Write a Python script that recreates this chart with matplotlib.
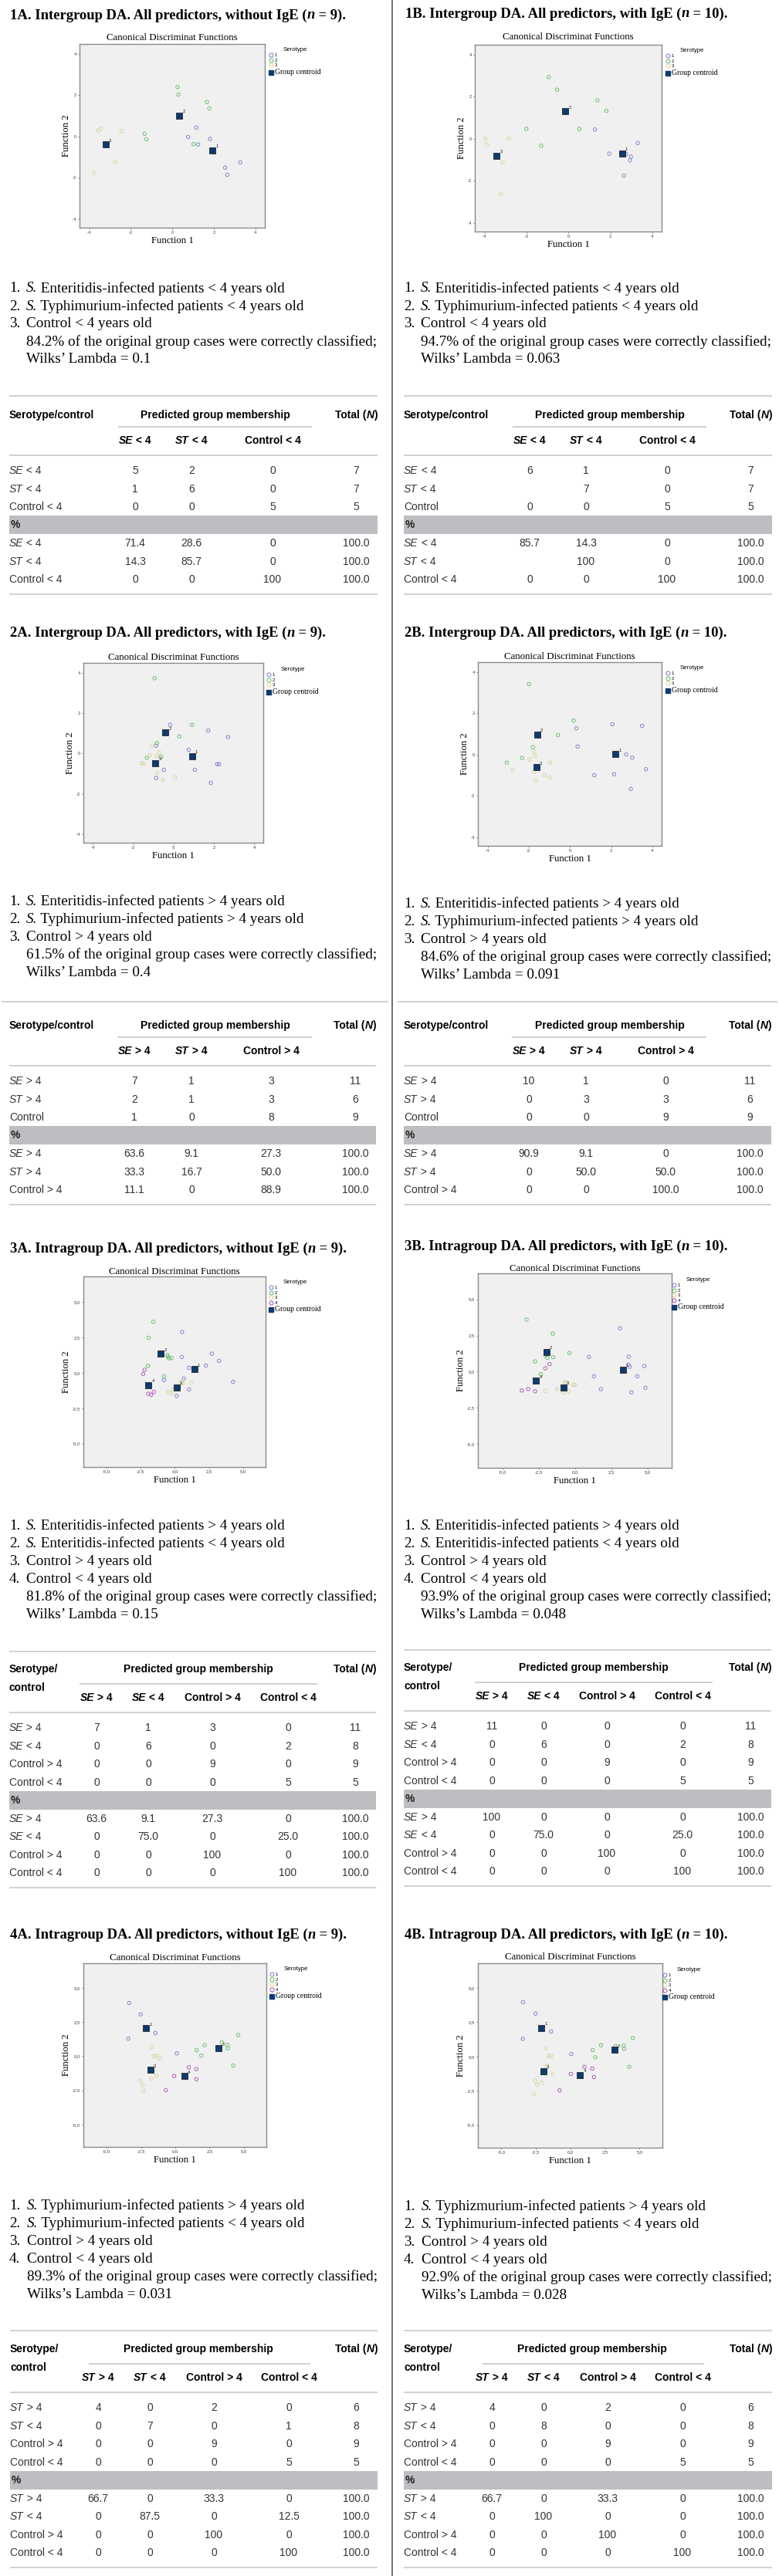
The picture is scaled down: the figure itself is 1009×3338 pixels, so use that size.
import matplotlib
matplotlib.use('Agg')
import matplotlib.pyplot as plt
from matplotlib.lines import Line2D
from matplotlib.patches import Rectangle
from matplotlib.ticker import FuncFormatter

W, H = 1009, 3338
SERIF = 'Liberation Serif'
SANS = 'Liberation Sans'
plt.rcParams['axes.unicode_minus'] = False

# ---------------- headings and captions ----------------
title_1a = "1A. Intergroup DA. All predictors, without IgE (n = 9)."
title_1b = "1B. Intergroup DA. All predictors, with IgE (n = 10)."
title_2a = "2A. Intergroup DA. All predictors, with IgE (n = 9)."
title_2b = "2B. Intergroup DA. All predictors, with IgE (n = 10)."
title_3a = "3A. Intragroup DA. All predictors, without IgE (n = 9)."
title_3b = "3B. Intragroup DA. All predictors, with IgE (n = 10)."
title_4a = "4A. Intragroup DA. All predictors, without IgE (n = 9)."
title_4b = "4B. Intragroup DA. All predictors, with IgE (n = 10)."

desc_1a = ["S. Enteritidis-infected patients < 4 years old",
           "S. Typhimurium-infected patients < 4 years old",
           "Control < 4 years old",
           "84.2% of the original group cases were correctly classified;",
           "Wilks’ Lambda = 0.1"]
desc_1b = ["S. Enteritidis-infected patients < 4 years old",
           "S. Typhimurium-infected patients < 4 years old",
           "Control < 4 years old",
           "94.7% of the original group cases were correctly classified;",
           "Wilks’ Lambda = 0.063"]
desc_2a = ["S. Enteritidis-infected patients > 4 years old",
           "S. Typhimurium-infected patients > 4 years old",
           "Control > 4 years old",
           "61.5% of the original group cases were correctly classified;",
           "Wilks’ Lambda = 0.4"]
desc_2b = ["S. Enteritidis-infected patients > 4 years old",
           "S. Typhimurium-infected patients > 4 years old",
           "Control > 4 years old",
           "84.6% of the original group cases were correctly classified;",
           "Wilks’ Lambda = 0.091"]
desc_3a = ["S. Enteritidis-infected patients > 4 years old",
           "S. Enteritidis-infected patients < 4 years old",
           "Control > 4 years old",
           "Control < 4 years old",
           "81.8% of the original group cases were correctly classified;",
           "Wilks’ Lambda = 0.15"]
desc_3b = ["S. Enteritidis-infected patients > 4 years old",
           "S. Enteritidis-infected patients < 4 years old",
           "Control > 4 years old",
           "Control < 4 years old",
           "93.9% of the original group cases were correctly classified;",
           "Wilks’s Lambda = 0.048"]
desc_4a = ["S. Typhimurium-infected patients > 4 years old",
           "S. Typhimurium-infected patients < 4 years old",
           "Control > 4 years old",
           "Control < 4 years old",
           "89.3% of the original group cases were correctly classified;",
           "Wilks’s Lambda = 0.031"]
desc_4b = ["S. Typhizmurium-infected patients > 4 years old",
           "S. Typhimurium-infected patients < 4 years old",
           "Control > 4 years old",
           "Control < 4 years old",
           "92.9% of the original group cases were correctly classified;",
           "Wilks’s Lambda = 0.028"]

# ---------------- discriminant scores (Function 1, Function 2) ----------------
pts_1a_g1 = [(1.15, 0.43), (0.76, -0.03), (1.24, -0.39), (1.81, -0.12), (2.54, -1.51), (2.64, -1.86), (3.27, -1.26)]
pts_1a_g2 = [(0.25, 2.40), (0.29, 2.03), (1.66, 1.67), (1.78, 1.36), (1.02, -0.37), (-1.34, 0.13), (-1.25, -0.14)]
pts_1a_g3 = [(-3.58, 0.29), (-3.44, 0.38), (-2.45, 0.26), (-2.75, -1.24), (-3.76, -1.75)]
cen_1a = [(1.92, -0.68), (0.33, 1.01), (-3.21, -0.40)]

pts_1b_g1 = [(1.27, 0.44), (1.95, -0.71), (2.75, -0.73), (2.98, -0.85), (2.94, -1.03), (3.31, -0.20), (2.65, -1.76)]
pts_1b_g2 = [(-0.94, 2.94), (-0.54, 2.34), (1.38, 1.83), (1.81, 1.33), (0.52, 0.47), (-2.01, 0.48), (-1.30, -0.33)]
pts_1b_g3 = [(-3.96, 0.0), (-3.90, -0.27), (-2.85, 0.01), (-3.14, -1.12), (-3.22, -2.63)]
cen_1b = [(2.56, -0.69), (-0.15, 1.30), (-3.42, -0.80)]

pts_2a_g1 = [(-0.17, 1.42), (1.72, 1.13), (2.70, 0.81), (-0.86, 0.38), (0.75, 0.18), (2.16, -0.53),
             (2.26, -0.53), (-0.48, -0.81), (1.06, -0.81), (-0.86, -1.22), (1.85, -1.46)]
pts_2a_g2 = [(-0.94, 3.72), (0.92, 1.42), (0.29, 0.84), (-0.82, 0.51), (-1.32, -0.22), (-0.61, -0.17)]
pts_2a_g3 = [(-1.06, 0.36), (-1.18, -0.08), (-0.71, 0.04), (-0.82, -0.15), (-1.58, -0.48), (-1.49, -0.51),
             (-0.82, -0.97), (-0.53, -1.30), (0.08, -1.18)]
cen_2a = [(0.92, -0.14), (-0.41, 1.03), (-0.90, -0.47)]

pts_2b_g1 = [(2.06, 1.47), (3.50, 1.39), (0.31, 1.27), (0.37, 0.39), (2.73, 0.0), (3.02, -0.14),
             (3.69, -0.71), (2.14, -0.95), (1.18, -1.0), (2.95, -1.66), (2.21, 0.05)]
pts_2b_g2 = [(-1.99, 3.41), (0.18, 1.65), (-0.58, 0.95), (-1.80, 0.36), (-2.33, -0.16), (-3.07, -0.39)]
pts_2b_g3 = [(-1.73, 0.14), (-1.71, -0.06), (-1.96, -0.24), (-0.97, -0.38), (-2.78, -0.74), (-1.75, -0.83),
             (-1.24, -0.99), (-0.97, -1.11), (-1.68, -1.26)]
cen_2b = [(2.21, 0.02), (-1.60, 0.97), (-1.64, -0.61)]

pts_3a_g1 = [(0.53, 2.87), (0.51, 1.11), (2.71, 1.35), (3.24, 0.84), (2.28, 0.51), (1.04, 0.35),
             (-0.79, -0.51), (0.66, -0.40), (1.04, -1.17), (0.13, -1.63), (4.27, -0.64)]
pts_3a_g2 = [(-1.58, 3.6), (-1.92, 2.47), (-0.55, 1.25), (-0.5, 1.12), (-0.42, 1.02), (-0.25, 1.05),
             (-1.96, 0.49), (-0.79, -0.24)]
pts_3a_g3 = [(1.21, -0.71), (0.58, -0.75), (-0.49, -1.35), (-0.26, -1.44), (-0.17, -1.2), (0.5, -0.62),
             (0.0, -1.1), (0.3, -1.0), (0.35, -0.85)]
pts_3a_g4 = [(-2.22, 0.22), (-2.32, -0.09), (-1.94, -1.48), (-1.73, -1.55), (-1.54, -1.35)]
cen_3a = [(1.43, 0.24), (-1.02, 1.33), (0.15, -1.02), (-1.94, -0.86)]

pts_3b_g1 = [(3.1, 3.0), (0.95, 1.02), (3.69, 1.04), (3.76, 0.34), (3.67, 0.48), (4.77, 0.39),
             (1.29, -0.32), (4.28, -0.32), (1.77, -1.21), (3.87, -1.43), (4.84, -1.11)]
pts_3b_g2 = [(-3.35, 3.6), (-1.54, 2.63), (-0.39, 1.29), (-1.51, 1.0), (-1.92, 0.96), (-2.04, 1.12),
             (-2.76, 0.71), (-2.37, -0.18)]
pts_3b_g3 = [(-2.06, -1.34), (-1.24, -1.2), (-0.79, -1.43), (-0.47, -1.36), (-0.72, -0.77), (-0.64, -0.71),
             (-0.13, -0.91), (-0.02, -0.91), (-0.8, -1.1)]
pts_3b_g4 = [(-1.77, 0.52), (-2.06, 0.23), (-3.67, -1.30), (-3.24, -1.20), (-2.76, -1.36)]
cen_3b = [(3.28, 0.14), (-1.97, 1.36), (-0.79, -1.09), (-2.69, -0.63)]

pts_4a_g1 = [(-3.36, 3.89), (-2.52, 3.06), (-1.44, 1.69), (-3.43, 1.28), (0.11, 0.20), (-2.1, 2.05)]
pts_4a_g2 = [(4.60, 1.55), (3.40, 1.01), (3.81, 0.82), (3.83, 0.58), (2.14, 0.80), (1.56, 0.43),
             (1.91, 0.04), (4.24, -0.69)]
pts_4a_g3 = [(-1.73, 0.67), (-1.58, 0.0), (-1.37, 0.02), (-1.13, -0.17), (-1.37, -1.43), (-1.74, -1.66),
             (-2.53, -1.82), (-2.40, -2.14), (-2.31, -2.53)]
pts_4a_g4 = [(0.99, -0.82), (1.54, -0.95), (-0.08, -1.45), (1.54, -1.69), (-0.68, -2.50)]
cen_4a = [(-2.14, 2.03), (3.17, 0.56), (-1.80, -1.01), (0.66, -1.47)]

pts_4b_g1 = [(-3.43, 3.97), (-2.53, 3.13), (-1.40, 1.83), (-3.45, 1.29), (0.06, 0.19), (-2.1, 2.1)]
pts_4b_g2 = [(4.51, 1.35), (2.21, 0.82), (3.26, 0.75), (3.85, 0.79), (3.87, 0.56), (1.60, 0.47),
             (1.79, -0.06), (4.25, -0.75)]
pts_4b_g3 = [(-1.81, 0.62), (-1.58, 0.04), (-1.42, 0.04), (-1.72, -0.69), (-1.30, -1.29), (-2.55, -1.74),
             (-2.43, -2.07), (-2.08, -1.91), (-2.62, -2.71)]
pts_4b_g4 = [(1.0, -0.75), (1.57, -0.88), (0.02, -1.27), (1.70, -1.50), (-0.79, -2.47)]
cen_4b = [(-2.11, 2.09), (3.17, 0.49), (-1.96, -1.08), (0.70, -1.36)]

# ---------------- classification tables ----------------
tab_1a_cols = ['SE < 4', 'ST < 4', 'Control < 4']
tab_1a_rows = ['SE < 4', 'ST < 4', 'Control < 4']
tab_1a_n = [['5', '2', '0', '7'], ['1', '6', '0', '7'], ['0', '0', '5', '5']]
tab_1a_prows = ['SE < 4', 'ST < 4', 'Control < 4']
tab_1a_pct = [['71.4', '28.6', '0', '100.0'], ['14.3', '85.7', '0', '100.0'], ['0', '0', '100', '100.0']]

tab_1b_cols = ['SE < 4', 'ST < 4', 'Control < 4']
tab_1b_rows = ['SE < 4', 'ST < 4', 'Control']
tab_1b_n = [['6', '1', '0', '7'], ['', '7', '0', '7'], ['0', '0', '5', '5']]
tab_1b_prows = ['SE < 4', 'ST < 4', 'Control < 4']
tab_1b_pct = [['85.7', '14.3', '0', '100.0'], ['', '100', '0', '100.0'], ['0', '0', '100', '100.0']]

tab_2a_cols = ['SE > 4', 'ST > 4', 'Control > 4']
tab_2a_rows = ['SE > 4', 'ST > 4', 'Control']
tab_2a_n = [['7', '1', '3', '11'], ['2', '1', '3', '6'], ['1', '0', '8', '9']]
tab_2a_prows = ['SE > 4', 'ST > 4', 'Control > 4']
tab_2a_pct = [['63.6', '9.1', '27.3', '100.0'], ['33.3', '16.7', '50.0', '100.0'], ['11.1', '0', '88.9', '100.0']]

tab_2b_cols = ['SE > 4', 'ST > 4', 'Control > 4']
tab_2b_rows = ['SE > 4', 'ST > 4', 'Control']
tab_2b_n = [['10', '1', '0', '11'], ['0', '3', '3', '6'], ['0', '0', '9', '9']]
tab_2b_prows = ['SE > 4', 'ST > 4', 'Control > 4']
tab_2b_pct = [['90.9', '9.1', '0', '100.0'], ['0', '50.0', '50.0', '100.0'], ['0', '0', '100.0', '100.0']]

tab_3a_cols = ['SE > 4', 'SE < 4', 'Control > 4', 'Control < 4']
tab_3a_rows = ['SE > 4', 'SE < 4', 'Control > 4', 'Control < 4']
tab_3a_n = [['7', '1', '3', '0', '11'], ['0', '6', '0', '2', '8'], ['0', '0', '9', '0', '9'], ['0', '0', '0', '5', '5']]
tab_3a_pct = [['63.6', '9.1', '27.3', '0', '100.0'], ['0', '75.0', '0', '25.0', '100.0'],
              ['0', '0', '100', '0', '100.0'], ['0', '0', '0', '100', '100.0']]

tab_3b_cols = ['SE > 4', 'SE < 4', 'Control > 4', 'Control < 4']
tab_3b_rows = ['SE > 4', 'SE < 4', 'Control > 4', 'Control < 4']
tab_3b_n = [['11', '0', '0', '0', '11'], ['0', '6', '0', '2', '8'], ['0', '0', '9', '0', '9'], ['0', '0', '0', '5', '5']]
tab_3b_pct = [['100', '0', '0', '0', '100.0'], ['0', '75.0', '0', '25.0', '100.0'],
              ['0', '0', '100', '0', '100.0'], ['0', '0', '0', '100', '100.0']]

tab_4a_cols = ['ST > 4', 'ST < 4', 'Control > 4', 'Control < 4']
tab_4a_rows = ['ST > 4', 'ST < 4', 'Control > 4', 'Control < 4']
tab_4a_n = [['4', '0', '2', '0', '6'], ['0', '7', '0', '1', '8'], ['0', '0', '9', '0', '9'], ['0', '0', '0', '5', '5']]
tab_4a_pct = [['66.7', '0', '33.3', '0', '100.0'], ['0', '87.5', '0', '12.5', '100.0'],
              ['0', '0', '100', '0', '100.0'], ['0', '0', '0', '100', '100.0']]

tab_4b_cols = ['ST > 4', 'ST < 4', 'Control > 4', 'Control < 4']
tab_4b_rows = ['ST > 4', 'ST < 4', 'Control > 4', 'Control < 4']
tab_4b_n = [['4', '0', '2', '0', '6'], ['0', '8', '0', '0', '8'], ['0', '0', '9', '0', '9'], ['0', '0', '0', '5', '5']]
tab_4b_pct = [['66.7', '0', '33.3', '0', '100.0'], ['0', '100', '0', '0', '100.0'],
              ['0', '0', '100', '0', '100.0'], ['0', '0', '0', '100', '100.0']]

COLORS = ['#8686cf', '#70c070', '#d9d6a2', '#b05fb6']
NAVY = '#0c3b70'
RULE = '#c3c3c3'
BAND = '#bdbec1'
TXT = '#333333'

fig = plt.figure(figsize=(W / 100, H / 100), dpi=100)
fig.patch.set_facecolor('white')
bg = fig.add_axes([0, 0, 1, 1])
bg.set_xlim(0, W)
bg.set_ylim(H, 0)
bg.axis('off')
renderer = fig.canvas.get_renderer()


def text_width(s, **kw):
    t = bg.text(0, 0, s + '|', **kw)
    w1 = t.get_window_extent(renderer).width
    t.set_text('|')
    w2 = t.get_window_extent(renderer).width
    t.remove()
    return w1 - w2


def fit(s, target, **kw):
    # font size that gives the string the width it has in the reference
    return 10 * target / text_width(s, fontsize=10, **kw)


FS_TITLE = fit(title_1a, 435, family=SERIF, fontweight='bold')
FS_CAP = fit(desc_3a[4], 453, family=SERIF)
FS_TAB = fit('Predicted group membership', 193, family=SANS, fontweight='bold')
FS_CT = fit('Canonical Discriminat Functions', 170, family=SERIF)
FS_AXL = fit('Function 1', 55, family=SERIF)
FS_GC = fit('Group centroid', 59, family=SERIF)
FS_SER = fit('Serotype', 31, family=SANS)


def rich(x, y, parts, size, family, ha='left', color='black'):
    # parts: (text, weight, style)
    widths = [text_width(s, fontsize=size, family=family, fontweight=w, fontstyle=st) for s, w, st in parts]
    total = sum(widths)
    if ha == 'center':
        x -= total / 2
    elif ha == 'right':
        x -= total
    for (s, w, st), wd in zip(parts, widths):
        bg.text(x, y, s, fontsize=size, family=family, fontweight=w, fontstyle=st,
                ha='left', va='center', color=color)
        x += wd


def heading(x, y, s):
    pre, post = s.split('(n')
    rich(x, y, [(pre + '(', 'bold', 'normal'), ('n', 'bold', 'italic'), (post, 'bold', 'normal')],
         FS_TITLE, SERIF)


def caption(xnum, xtxt, y, lines, n_items):
    for i, line in enumerate(lines):
        yy = y + i * 23
        if i < n_items:
            bg.text(xnum, yy, '%d.' % (i + 1), fontsize=FS_CAP, family=SERIF, va='center')
        if line.startswith('S. '):
            parts = [('S.', 'normal', 'italic'), (line[2:], 'normal', 'normal')]
        else:
            parts = [(line, 'normal', 'normal')]
        rich(xtxt, yy, parts, FS_CAP, SERIF)


def label_parts(s, weight):
    if s[:2] in ('SE', 'ST'):
        return [(s[:2], weight, 'italic'), (s[2:], weight, 'normal')]
    return [(s, weight, 'normal')]


def dfmt(v, pos):
    return ('%.1f' % v).replace('.', ',')


def plot_panel(box, groups, cents, intra, leg, ctitle_y):
    l, t, r, b = box
    ax = fig.add_axes([l / W, 1 - b / H, (r - l) / W, (b - t) / H])
    ax.set_facecolor('#f0f0f0')
    for pts, c in zip(groups, COLORS):
        ax.scatter([p[0] for p in pts], [p[1] for p in pts], s=10, facecolors='none',
                   edgecolors=c, linewidths=0.7, zorder=3)
    ax.scatter([p[0] for p in cents], [p[1] for p in cents], marker='s', s=26,
               color=NAVY, edgecolors='#111111', linewidths=0.5, zorder=4)
    for i, (x, y) in enumerate(cents):
        ax.annotate(str(i + 1), (x, y), xytext=(3.0, 2.6), textcoords='offset points',
                    fontsize=4.3, family=SANS, color='#222222', zorder=5)
    if intra:
        ticks = [-5, -2.5, 0, 2.5, 5]
        ax.set_xlim(-6.7, 6.65)
        ax.set_ylim(-6.65, 6.8)
    else:
        ticks = [-4, -2, 0, 2, 4]
        ax.set_xlim(-4.47, 4.45)
        ax.set_ylim(-4.42, 4.48)
    ax.set_xticks(ticks)
    ax.set_yticks(ticks)
    if intra:
        ax.xaxis.set_major_formatter(FuncFormatter(dfmt))
        ax.yaxis.set_major_formatter(FuncFormatter(dfmt))
    for sp in ax.spines.values():
        sp.set_color('#8a8a8a')
        sp.set_linewidth(1.0)
    ax.tick_params(direction='out', length=1.6, width=0.5, pad=1, labelsize=4.3,
                   color='#555555', labelcolor='#444444')
    for lab in ax.get_xticklabels() + ax.get_yticklabels():
        lab.set_family(SANS)
    ax.set_xlabel('Function 1', family=SERIF, fontsize=FS_AXL, labelpad=1.5)
    ax.set_ylabel('Function 2', family=SERIF, fontsize=FS_AXL, labelpad=1.5)
    bg.text((l + r) / 2, ctitle_y, 'Canonical Discriminat Functions', family=SERIF,
            fontsize=FS_CT, ha='center', va='center')
    n = len(groups)
    handles = [Line2D([], [], ls='none', marker='o', ms=3.6, mfc='none', mec=COLORS[i], mew=0.8)
               for i in range(n)]
    handles.append(Line2D([], [], ls='none', marker='s', ms=4.2, mfc=NAVY, mec=NAVY))
    labels = [str(i + 1) for i in range(n)] + ['Group centroid']
    mx, sy = leg
    lg = ax.legend(handles, labels, loc='upper left',
                   bbox_to_anchor=((mx - 3) / W, 1 - (sy - 4) / H), bbox_transform=fig.transFigure,
                   frameon=False, borderpad=0, borderaxespad=0, handlelength=0.8,
                   handletextpad=0.35, labelspacing=0.22, prop={'family': SANS, 'size': 4.3},
                   title='Serotype', title_fontproperties={'family': SANS, 'size': FS_SER})
    lg.get_texts()[-1].set_family(SERIF)
    lg.get_texts()[-1].set_fontsize(FS_GC)
    return ax


def table(x0, x1, top, tx0, tx1, hy, cols_x, tot_x, pgm_x, ul, cols, rows, counts, prows, pcts):
    four = len(cols) == 4
    step = 23.5
    fs = FS_TAB
    bg.hlines(top, tx0, tx1, color=RULE, lw=1.1)
    if four:
        rich(x0, hy, [('Serotype/', 'bold', 'normal')], fs, SANS)
        rich(x0, hy + 24, [('control', 'bold', 'normal')], fs, SANS)
        ul_y, sub_y, rule_y, r0 = hy + 18.5, hy + 36.5, hy + 55.5, hy + 76
    else:
        rich(x0, hy, [('Serotype/control', 'bold', 'normal')], fs, SANS)
        ul_y, sub_y, rule_y, r0 = hy + 15, hy + 33, hy + 52, hy + 72
    rich(pgm_x, hy, [('Predicted group membership', 'bold', 'normal')], fs, SANS, ha='center')
    rich(x1, hy, [('Total (', 'bold', 'normal'), ('N', 'bold', 'italic'), (')', 'bold', 'normal')],
         fs, SANS, ha='right')
    bg.hlines(ul_y, ul[0], ul[1], color=RULE, lw=1.1)
    for c, cx in zip(cols, cols_x):
        rich(cx, sub_y, label_parts(c, 'bold'), fs, SANS, ha='center')
    bg.hlines(rule_y, x0, x1, color=RULE, lw=1.1)
    xs = list(cols_x) + [tot_x]
    y = r0
    for lab, vals in zip(rows, counts):
        rich(x0, y, label_parts(lab, 'normal'), fs, SANS, color=TXT)
        for v, vx in zip(vals, xs):
            bg.text(vx, y, v, fontsize=fs, family=SANS, ha='center', va='center', color=TXT)
        y += step
    band_top = y - step + 11.5
    bg.add_patch(Rectangle((x0, band_top), x1 - x0, step, color=BAND, lw=0))
    bg.text(x0 + 2, band_top + step / 2, '%', fontsize=fs, family=SANS, fontweight='bold',
            ha='left', va='center', color='#222222')
    y = band_top + step + 12
    for lab, vals in zip(prows, pcts):
        rich(x0, y, label_parts(lab, 'normal'), fs, SANS, color=TXT)
        for v, vx in zip(vals, xs):
            bg.text(vx, y, v, fontsize=fs, family=SANS, ha='center', va='center', color=TXT)
        y += step
    bg.hlines(y - step + 19, x0, x1, color=RULE, lw=1.1)


# column divider
bg.axvline(508, color='#4a4a4a', lw=1.1)

# ---- block 1
heading(13, 20, title_1a)
heading(525, 18, title_1b)
plot_panel((103, 57, 343, 295), [pts_1a_g1, pts_1a_g2, pts_1a_g3], cen_1a, False, (352, 65), 49)
plot_panel((615, 58, 857, 300), [pts_1b_g1, pts_1b_g2, pts_1b_g3], cen_1b, False, (866, 66), 48)
caption(12, 34, 374, desc_1a, 3)
caption(523, 545, 374, desc_1b, 3)
table(12, 489, 513, 12, 489, 538, [175, 248, 353], 461, 279, (153, 404),
      tab_1a_cols, tab_1a_rows, tab_1a_n, tab_1a_prows, tab_1a_pct)
table(523, 1000, 513, 523, 1000, 538, [686, 759, 864], 972, 790, (664, 915),
      tab_1b_cols, tab_1b_rows, tab_1b_n, tab_1b_prows, tab_1b_pct)

# ---- block 2
heading(13, 820, title_2a)
heading(524, 820, title_2b)
plot_panel((108, 859, 341, 1092), [pts_2a_g1, pts_2a_g2, pts_2a_g3], cen_2a, False, (349, 868), 852)
plot_panel((619, 858, 857, 1096), [pts_2b_g1, pts_2b_g2, pts_2b_g3], cen_2b, False, (866, 866), 851)
caption(12, 34, 1168, desc_2a, 3)
caption(523, 545, 1171, desc_2b, 3)
table(12, 487, 1298, 2, 503, 1329, [174, 248, 351], 460, 279, (152, 404),
      tab_2a_cols, tab_2a_rows, tab_2a_n, tab_2a_prows, tab_2a_pct)
table(523, 999, 1298, 515, 1007, 1329, [685, 759, 862], 971, 790, (663, 915),
      tab_2b_cols, tab_2b_rows, tab_2b_n, tab_2b_prows, tab_2b_pct)

# ---- block 3
heading(13, 1618, title_3a)
heading(524, 1615, title_3b)
plot_panel((108, 1654, 344, 1901), [pts_3a_g1, pts_3a_g2, pts_3a_g3, pts_3a_g4], cen_3a, True, (352, 1662), 1648)
plot_panel((619, 1650, 870, 1902), [pts_3b_g1, pts_3b_g2, pts_3b_g3, pts_3b_g4], cen_3b, True, (874, 1659), 1644)
caption(12, 34, 1977, desc_3a, 4)
caption(523, 545, 1977, desc_3b, 4)
table(12, 487, 2140, 12, 487, 2163, [125, 192, 275, 373], 460, 257, (103, 411),
      tab_3a_cols, tab_3a_rows, tab_3a_n, tab_3a_rows, tab_3a_pct)
table(523, 999, 2138, 523, 999, 2161, [637, 704, 786, 884], 972, 769, (615, 923),
      tab_3b_cols, tab_3b_rows, tab_3b_n, tab_3b_rows, tab_3b_pct)

# ---- block 4
heading(13, 2507, title_4a)
heading(524, 2507, title_4b)
plot_panel((108, 2544, 345, 2782), [pts_4a_g1, pts_4a_g2, pts_4a_g3, pts_4a_g4], cen_4a, True, (353, 2552), 2537)
plot_panel((619, 2544, 858, 2783), [pts_4b_g1, pts_4b_g2, pts_4b_g3, pts_4b_g4], cen_4b, True, (862, 2553), 2536)
caption(12, 35, 2858, desc_4a, 4)
caption(523, 546, 2859, desc_4b, 4)
table(13, 489, 3020, 13, 489, 3044, [127, 194, 277, 374], 461, 257, (115, 402),
      tab_4a_cols, tab_4a_rows, tab_4a_n, tab_4a_rows, tab_4a_pct)
table(523, 1000, 3020, 523, 1000, 3044, [637, 704, 787, 884], 972, 767, (625, 912),
      tab_4b_cols, tab_4b_rows, tab_4b_n, tab_4b_rows, tab_4b_pct)

fig.savefig('out.png', dpi=100)
